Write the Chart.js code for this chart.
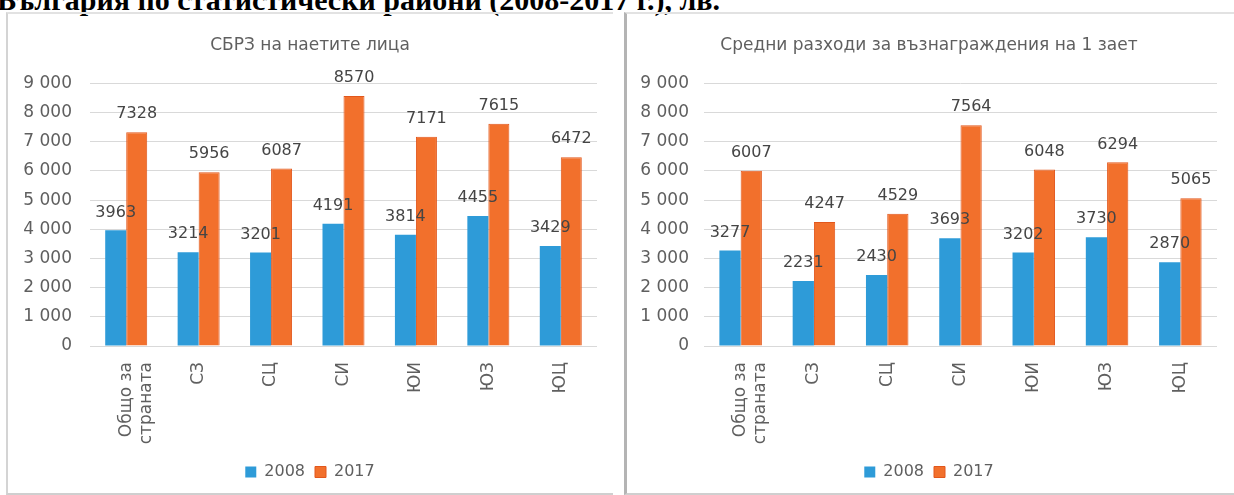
<!DOCTYPE html>
<html>
<head>
<meta charset="utf-8">
<script src="https://cdn.jsdelivr.net/npm/chart.js@4/dist/chart.umd.min.js"></script>
<style>
  html, body { margin: 0; padding: 0; background: #fff; width: 1234px; height: 495px; overflow: hidden; position: relative; }
  #doctitle { position: absolute; left: -3px; top: -15px; font: bold 30px "Liberation Serif", serif; line-height: 30px; color: #000; white-space: nowrap; }
  .panel { position: absolute; box-sizing: border-box; }
  #pl { left: 6px; top: 12px; width: 607px; height: 483px; border-left: 2px solid #d4d4d4; border-top: 2px solid #e2e2e2; border-bottom: 2px solid #cfcfcf; }
  #pr { left: 624px; top: 12px; width: 610px; height: 483px; border-left: 3px solid #b4b4b4; border-top: 2px solid #e2e2e2; border-bottom: 2px solid #cfcfcf; }
  canvas { position: absolute; }
  #c1 { left: 8px; top: 12px; }
  #c2 { left: 628px; top: 12px; }
</style>
</head>
<body>
<div id="doctitle">България по статистически райони (2008-2017 г.), лв.</div>
<div class="panel" id="pl"></div>
<div class="panel" id="pr"></div>
<canvas id="c1" width="604" height="483" style="width:604px;height:483px"></canvas>
<canvas id="c2" width="606" height="483" style="width:606px;height:483px"></canvas>
<script>
const categories = [['Общо за', 'страната'], 'СЗ', 'СЦ', 'СИ', 'ЮИ', 'ЮЗ', 'ЮЦ'];
const seriesNames = ['2008', '2017'];
const salary2008 = [3963, 3214, 3201, 4191, 3814, 4455, 3429];
const salary2017 = [7328, 5956, 6087, 8570, 7171, 7615, 6472];
const cost2008 = [3277, 2231, 2430, 3693, 3202, 3730, 2870];
const cost2017 = [6007, 4247, 4529, 7564, 6048, 6294, 5065];
const yTickLabels = ['0', '1 000', '2 000', '3 000', '4 000', '5 000', '6 000', '7 000', '8 000', '9 000'];
const titleLeft = 'СБРЗ на наетите лица';
const titleRight = 'Средни разходи за възнаграждения на 1 заeт';

const FONT = '"DejaVu Sans", sans-serif';
const BLUE = '#2e9bd8';
const ORANGE = '#f2702c';
const TEXT = '#5f5f5f';

const valueLabels = {
  id: 'valueLabels',
  afterDatasetsDraw(chart) {
    const ctx = chart.ctx;
    ctx.save();
    ctx.font = '16px ' + FONT;
    ctx.fillStyle = '#454545';
    ctx.textAlign = 'center';
    ctx.textBaseline = 'middle';
    chart.data.datasets.forEach((ds, i) => {
      chart.getDatasetMeta(i).data.forEach((bar, j) => {
        ctx.fillText(String(ds.data[j]), bar.x, bar.y - 18);
      });
    });
    ctx.restore();
  }
};

function makeChart(id, title, d1, d2, cfg) {
  return new Chart(document.getElementById(id), {
    type: 'bar',
    data: {
      labels: categories,
      datasets: [
        { label: seriesNames[0], data: d1, backgroundColor: BLUE, borderWidth: 0 },
        { label: seriesNames[1], data: d2, backgroundColor: ORANGE, borderColor: '#e2571c', borderWidth: 1 }
      ]
    },
    options: {
      responsive: false,
      animation: false,
      devicePixelRatio: 1,
      layout: { padding: { left: cfg.padLeft, right: cfg.padRight, top: 0, bottom: 5 } },
      datasets: { bar: { categoryPercentage: 0.58, barPercentage: 1.0 } },
      plugins: {
        tooltip: { enabled: false },
        title: {
          display: true, text: title, color: TEXT,
          font: { family: FONT, size: 17, weight: 'normal' },
          padding: { top: 23, bottom: 28 }
        },
        legend: {
          position: 'bottom',
          labels: { color: TEXT, font: { family: FONT, size: 16 }, boxWidth: 11, boxHeight: 11, padding: 10 }
        }
      },
      scales: {
        x: {
          grid: { display: false, drawTicks: false },
          border: { display: false },
          ticks: { color: TEXT, font: { family: FONT, size: 17 }, minRotation: 90, maxRotation: 90, padding: 16, autoSkip: false },
          afterFit: (s) => { s.height = 108; }
        },
        y: {
          min: 0, max: 9000,
          grid: { color: '#d9d9d9', lineWidth: 1, drawTicks: false },
          border: { display: false },
          ticks: {
            stepSize: 1000, color: TEXT, font: { family: FONT, size: 17 }, padding: cfg.tickPad,
            callback: (v, i) => yTickLabels[i]
          },
          afterFit: (s) => { s.width = cfg.yWidth; }
        }
      }
    },
    plugins: [valueLabels]
  });
}

makeChart('c1', titleLeft, salary2008, salary2017, { padLeft: 15, padRight: 15, yWidth: 67, tickPad: 18 });
makeChart('c2', titleRight, cost2008, cost2017, { padLeft: 13, padRight: 17, yWidth: 63, tickPad: 15 });
</script>
</body>
</html>
